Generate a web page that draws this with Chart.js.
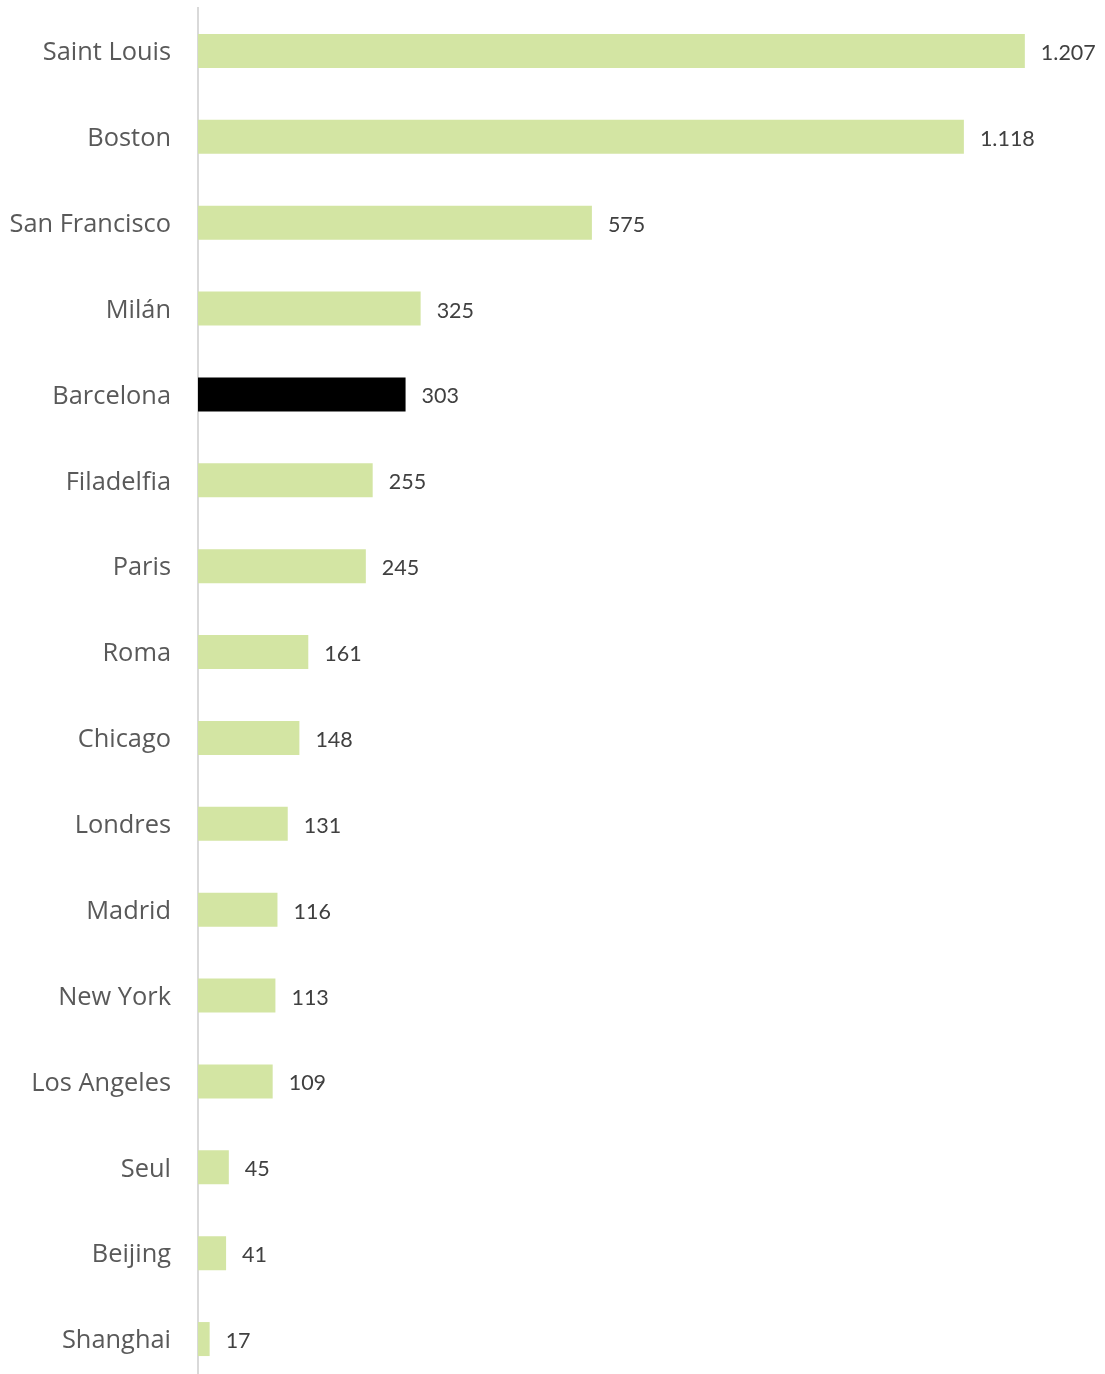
<!DOCTYPE html>
<html>
<head>
<meta charset="utf-8">
<script src="https://cdn.jsdelivr.net/npm/chart.js@4/dist/chart.umd.min.js"></script>
<style>
html,body{margin:0;padding:0;background:#fff;overflow:hidden;}
#wrap{width:1105px;height:1382px;}
</style>
</head>
<body>
<div id="wrap"><canvas id="c" width="1105" height="1382"></canvas></div>
<script>
const categories = ["Saint Louis","Boston","San Francisco","Milán","Barcelona","Filadelfia","Paris","Roma","Chicago","Londres","Madrid","New York","Los Angeles","Seul","Beijing","Shanghai"];
const values = [1207,1118,575,325,303,255,245,161,148,131,116,113,109,45,41,17];
const highlight = "Barcelona";

const green = "#d3e5a3";
const colors = categories.map(c => c === highlight ? "#000000" : green);

function fmt(v){
  return String(v).replace(/\B(?=(\d{3})+(?!\d))/g, ".");
}

const valueLabels = {
  id: "valueLabels",
  afterDatasetsDraw(chart){
    const ctx = chart.ctx;
    const meta = chart.getDatasetMeta(0);
    ctx.save();
    ctx.font = "21.5px Lato, 'Liberation Sans', sans-serif";
    ctx.fillStyle = "#404040";
    ctx.textAlign = "left";
    ctx.textBaseline = "middle";
    meta.data.forEach((bar, i) => {
      ctx.fillText(fmt(values[i]), bar.x + 16, bar.y + 2);
    });
    ctx.restore();
  }
};

new Chart(document.getElementById("c"), {
  type: "bar",
  data: {
    labels: categories,
    datasets: [{
      data: values,
      backgroundColor: colors,
      borderWidth: 0,
      categoryPercentage: 1,
      barPercentage: 0.396
    }]
  },
  options: {
    indexAxis: "y",
    responsive: false,
    animation: false,
    devicePixelRatio: 1,
    layout: { padding: { top: 8, bottom: 0, left: 0, right: 0 } },
    plugins: { legend: { display: false }, tooltip: { enabled: false } },
    scales: {
      x: {
        display: false,
        min: 0,
        max: 1324,
        grid: { display: false }
      },
      y: {
        offset: true,
        grid: { display: false, drawTicks: false },
        border: { display: true, color: "#d9d9d9", width: 2 },
        ticks: {
          padding: 27,
          labelOffset: 2,
          color: "#595959",
          font: { family: "'Open Sans', 'DejaVu Sans', sans-serif", size: 25.4 }
        },
        afterFit(scale){
          scale.width = 198;
          scale.paddingTop = 0;
          scale.paddingBottom = 0;
        }
      }
    }
  },
  plugins: [valueLabels]
});
</script>
</body>
</html>
